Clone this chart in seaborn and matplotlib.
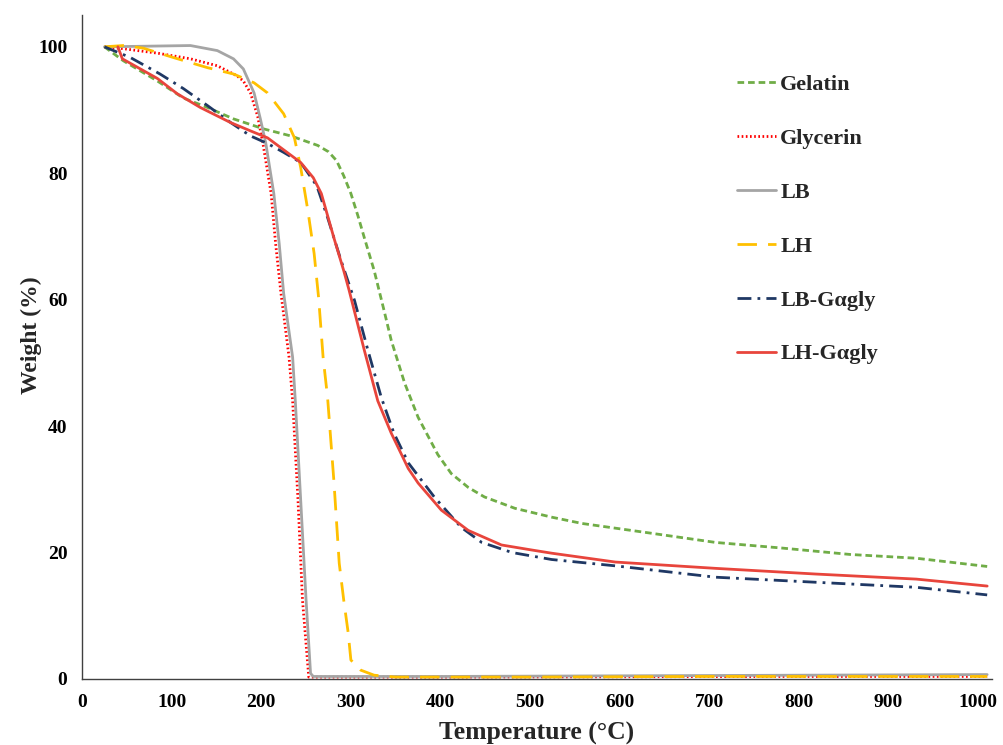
import matplotlib
matplotlib.use("Agg")
import matplotlib.pyplot as plt
import seaborn as sns
import pandas as pd

# ---- data ----
gel_T = [25, 46, 84, 113, 140, 169, 203, 233, 263, 275, 284, 292, 300, 308, 315, 326, 337, 345, 360, 375, 397, 412, 431, 449, 483, 524, 558, 633, 707, 782, 857, 931, 1010]
gel_W = [100, 97.8, 94.6, 91.9, 90.4, 88.6, 87, 85.9, 84.4, 83.4, 82, 79.6, 76.8, 73.2, 69.8, 64.6, 58.3, 53.6, 46.8, 41.4, 35.5, 32.5, 30.3, 28.8, 27, 25.6, 24.6, 23.1, 21.6, 20.7, 19.7, 19.1, 17.8]

gly_T = [25, 46, 84, 121, 151, 173, 180, 188, 196, 202, 211, 216, 222, 231, 235, 241, 246, 253, 300, 400, 600, 800, 1010]
gly_W = [100, 99.7, 99, 98.1, 97, 95.4, 94.6, 92.7, 89, 84.6, 76.8, 68.9, 61, 50.9, 44, 28.3, 12.5, 0.3, 0.3, 0.3, 0.35, 0.4, 0.4]

lb_T = [25, 121, 151, 169, 180, 192, 199, 205, 214, 220, 225, 235, 238, 244, 250, 255, 258, 400, 600, 800, 1010]
lb_W = [100, 100.2, 99.4, 98.1, 96.5, 92.7, 88.6, 84.8, 76.8, 68.9, 61, 50.9, 44, 28.3, 12.5, 0.9, 0.4, 0.4, 0.5, 0.6, 0.7]

lh_T = [25, 46, 68, 102, 140, 169, 192, 207, 225, 237, 244, 252, 259, 264, 269, 274, 281, 287, 292, 297, 300, 311, 326, 350, 500, 700, 1010]
lh_W = [100, 100.2, 99.8, 98.3, 96.7, 95.7, 94.3, 92.7, 89.4, 85.6, 80.9, 74.1, 67.3, 60.3, 50.9, 44.5, 31.4, 18.3, 12.5, 7.3, 3, 1.4, 0.6, 0.3, 0.3, 0.4, 0.4]

lbg_T = [25, 54, 87, 113, 140, 166, 188, 207, 225, 244, 262, 274, 289, 304, 319, 334, 348, 364, 393, 423, 446, 480, 524, 595, 707, 819, 931, 1010]
lbg_W = [100, 98.3, 95.7, 93.4, 90.7, 88, 85.9, 84.7, 83.3, 81.7, 78, 73, 66.2, 59.9, 52, 44.5, 38.9, 34.2, 28.8, 24, 21.6, 20, 18.9, 17.9, 16.1, 15.3, 14.5, 13.3]

lhg_T = [40, 45, 84, 106, 132, 166, 188, 207, 244, 258, 267, 281, 292, 298, 315, 330, 345, 364, 375, 401, 431, 468, 502, 524, 595, 707, 819, 931, 1010]
lhg_W = [100, 98.1, 95, 92.6, 90.4, 88, 86.7, 85.6, 81.7, 79.3, 76.8, 69.8, 64.6, 61.5, 52, 44, 38.9, 33.3, 31, 26.7, 23.5, 21.2, 20.4, 19.9, 18.5, 17.5, 16.6, 15.8, 14.7]

labels = ["Gelatin", "Glycerin", "LB", "LH", "LB-G\u03b1gly", "LH-G\u03b1gly"]
x_ticks = [0, 100, 200, 300, 400, 500, 600, 700, 800, 900, 1000]
y_ticks = [0, 20, 40, 60, 80, 100]

series = [
    (gel_T, gel_W, "#70AD47", (2.4, 1.4), 2.0),
    (gly_T, gly_W, "#FF0000", (0.6, 0.9), 2.0),
    (lb_T, lb_W, "#A5A5A5", None, 2.0),
    (lh_T, lh_W, "#FFC000", (7, 4), 2.0),
    (lbg_T, lbg_W, "#1F3864", (5, 2.2, 1, 2.2), 2.0),
    (lhg_T, lhg_W, "#E8453C", None, 2.0),
]

sns.set_theme(style="white")
plt.rcParams["font.family"] = ["Liberation Serif", "DejaVu Serif"]
plt.rcParams["font.weight"] = "bold"

fig = plt.figure(figsize=(10.04, 7.45), dpi=100)
ax = fig.add_axes([0.0817, 0.0886, 0.906, 0.891])

for (T, W, col, dash, lw), lab in zip(series, labels):
    df = pd.DataFrame({"T": T, "W": W})
    sns.lineplot(data=df, x="T", y="W", ax=ax, color=col, lw=lw,
                 label=lab, estimator=None, sort=False)
    line = ax.get_lines()[-1]
    line.set_solid_joinstyle("round")
    line.set_dash_joinstyle("round")
    if dash is not None:
        line.set_dashes(dash)

ax.set_xlim(0, 1015)
ax.set_ylim(0, 105)
ax.set_xticks(x_ticks)
ax.set_yticks(y_ticks)
ax.tick_params(direction="inout", length=9, width=1, colors="black",
               labelsize=14, pad=6)
for lbl in ax.get_xticklabels() + ax.get_yticklabels():
    lbl.set_fontweight("bold")
for s in ["top", "right"]:
    ax.spines[s].set_visible(False)
for s in ["left", "bottom"]:
    ax.spines[s].set_color("#404040")
    ax.spines[s].set_linewidth(1.0)

ax.set_xlabel("Temperature (\u00b0C)", fontsize=18.5, fontweight="bold", labelpad=8)
ax.set_ylabel("Weight (%)", fontsize=17, fontweight="bold", labelpad=-1)
ax.yaxis.set_label_coords(-0.044, 0.518)

leg = ax.legend(loc="upper left", bbox_to_anchor=(0.725, 0.912),
                bbox_transform=fig.transFigure, frameon=False,
                prop={"family": "Liberation Serif", "weight": "bold", "size": 16},
                handlelength=1.75, handletextpad=0.2, labelspacing=1.5,
                borderaxespad=0)

fig.savefig("out.png", dpi=100)
